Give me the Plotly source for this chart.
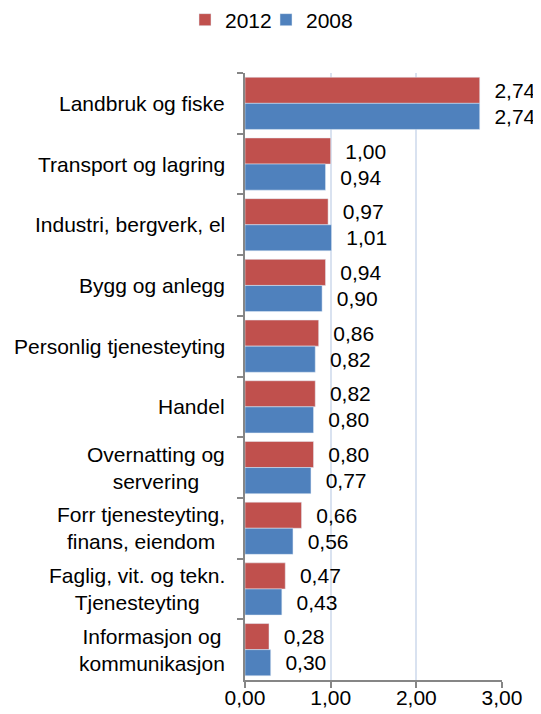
import plotly.graph_objects as go

categories = [
    "Landbruk og fiske",
    "Transport og lagring",
    "Industri, bergverk, el",
    "Bygg og anlegg",
    "Personlig tjenesteyting",
    "Handel",
    "Overnatting og<br>servering",
    "Forr tjenesteyting,<br>finans, eiendom",
    "Faglig, vit. og tekn.<br>Tjenesteyting",
    "Informasjon og<br>kommunikasjon",
]
values_2012 = [2.74, 1.00, 0.97, 0.94, 0.86, 0.82, 0.80, 0.66, 0.47, 0.28]
values_2008 = [2.74, 0.94, 1.01, 0.90, 0.82, 0.80, 0.77, 0.56, 0.43, 0.30]
x_ticks = [0, 1, 2, 3]

FONT = dict(family="Liberation Sans, Arial, sans-serif", size=21, color="#000000")

# the page body has an 8px margin, so the figure is sized to fit inside it
W, H = 533, 706

fig = go.Figure()
fig.add_trace(go.Bar(
    name="2012", y=categories, x=values_2012, orientation="h",
    marker=dict(color="#C0504D"), legend="legend",
    texttemplate="\u00a0\u00a0%{x:.2f}", textposition="outside",
    cliponaxis=False, textfont=FONT,
))
fig.add_trace(go.Bar(
    name="2008", y=categories, x=values_2008, orientation="h",
    marker=dict(color="#4F81BD"), legend="legend2",
    texttemplate="\u00a0\u00a0%{x:.2f}", textposition="outside",
    cliponaxis=False, textfont=FONT,
))

# Centered multi-line category labels, like the original
for cat in categories:
    fig.add_annotation(
        x=0, xref="paper", y=cat, yref="y", xanchor="right", xshift=-18,
        text=cat, showarrow=False, align="center", font=FONT,
    )

# one legend per series so the two entries sit close together
legend_style = dict(
    orientation="h", xref="container", xanchor="left",
    yref="container", y=1 - 12 / H, yanchor="middle", font=FONT,
    itemwidth=30, bgcolor="rgba(0,0,0,0)",
)

fig.update_layout(
    width=W, height=H,
    margin=dict(l=237, r=39, t=65, b=34, autoexpand=False),
    paper_bgcolor="white", plot_bgcolor="white",
    font=FONT,
    separators=", ",
    barmode="group",
    bargap=0.14, bargroupgap=0,
    showlegend=True,
    legend=dict(legend_style, x=177 / W),
    legend2=dict(legend_style, x=258 / W),
    xaxis=dict(
        range=[0, 3], tickvals=x_ticks, tickformat=".2f", automargin=False,
        showgrid=True, gridcolor="#D9E2F0", gridwidth=1.5,
        zeroline=False, showline=True, linecolor="#868686", linewidth=1.5,
        ticks="outside", ticklen=6, tickcolor="#868686", tickwidth=1.5,
        ticklabelstandoff=-8,
    ),
    yaxis=dict(
        autorange="reversed", showticklabels=False, automargin=False,
        showline=True, linecolor="#868686", linewidth=1.5,
        ticks="outside", ticklen=6, tickcolor="#868686", tickwidth=1.5,
        tickson="boundaries", showgrid=False,
    ),
)

fig.write_html("out.html")
